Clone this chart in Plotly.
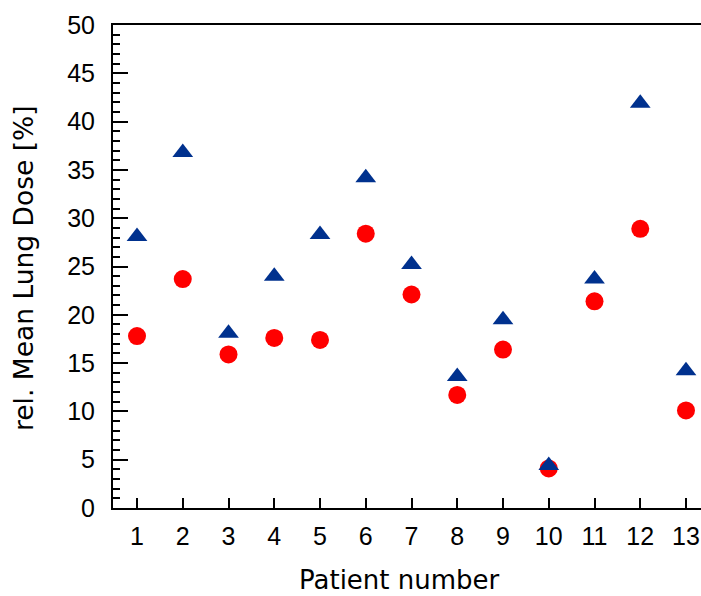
import plotly.graph_objects as go

patients = list(range(1, 14))
circle_vals = [17.8, 23.7, 15.9, 17.6, 17.4, 28.4, 22.1, 11.7, 16.4, 4.1, 21.4, 28.9, 10.1]
triangle_vals = [28.1, 36.8, 18.1, 24.0, 28.3, 34.2, 25.2, 13.6, 19.5, 4.4, 23.7, 41.9, 14.2]
x_ticks = list(range(1, 14))
y_ticks = list(range(0, 51, 5))
x_title = "Patient number"
y_title = "rel. Mean Lung Dose [%]"

tick_font = "Liberation Sans, Arial, sans-serif"
title_font = "DejaVu Sans, Liberation Sans, Arial, sans-serif"

W, H = 701, 596
L, R, T, B = 113, 0, 25, 88

fig = go.Figure()
fig.add_trace(go.Scatter(
    x=patients, y=circle_vals, mode="markers",
    marker=dict(symbol="circle", size=18, color="#FF0000", line=dict(width=0)),
    showlegend=False,
))
fig.add_trace(go.Scatter(
    x=patients, y=triangle_vals, mode="markers",
    marker=dict(symbol="triangle-up", size=18, color="#00318E", line=dict(width=0)),
    showlegend=False,
))

pw = W - L - R
ph = H - T - B

fig.update_layout(
    width=W, height=H,
    margin=dict(l=L, r=R, t=T, b=B, pad=0),
    paper_bgcolor="white", plot_bgcolor="white",
    font=dict(family=tick_font, size=25, color="black"),
    xaxis=dict(
        range=[0.475, 13.328],
        tickvals=x_ticks, ticktext=[str(v) for v in x_ticks],
        ticks="inside", ticklen=10, tickwidth=2, tickcolor="black",
        showline=True, linewidth=2, linecolor="black", mirror=True,
        showgrid=False, zeroline=False, automargin=False,
        tickfont=dict(size=25),
        ticklabelstandoff=5,
    ),
    yaxis=dict(
        range=[0, 50],
        tickvals=y_ticks, ticktext=[str(v) for v in y_ticks],
        ticks="inside", ticklen=15, tickwidth=2, tickcolor="black",
        minor=dict(dtick=1, ticks="inside", ticklen=7, tickwidth=2, tickcolor="black", showgrid=False),
        showline=True, linewidth=2, linecolor="black", mirror=False,
        showgrid=False, zeroline=False, automargin=False,
        tickfont=dict(size=25),
        ticklabelstandoff=11,
    ),
    annotations=[
        dict(text=x_title, xref="paper", yref="paper",
             x=(399.5 - L) / pw, y=(H - B - 580) / ph,
             xanchor="center", yanchor="middle", showarrow=False,
             font=dict(family=title_font, size=26, color="black")),
        dict(text=y_title, xref="paper", yref="paper",
             x=(23 - L) / pw, y=(H - B - 268) / ph, textangle=-90,
             xanchor="center", yanchor="middle", showarrow=False,
             font=dict(family=title_font, size=26.5, color="black")),
    ],
)

fig.write_html("out.html", config={"displayModeBar": False},
               post_script="document.body.style.margin='0';document.body.style.overflow='hidden';")
